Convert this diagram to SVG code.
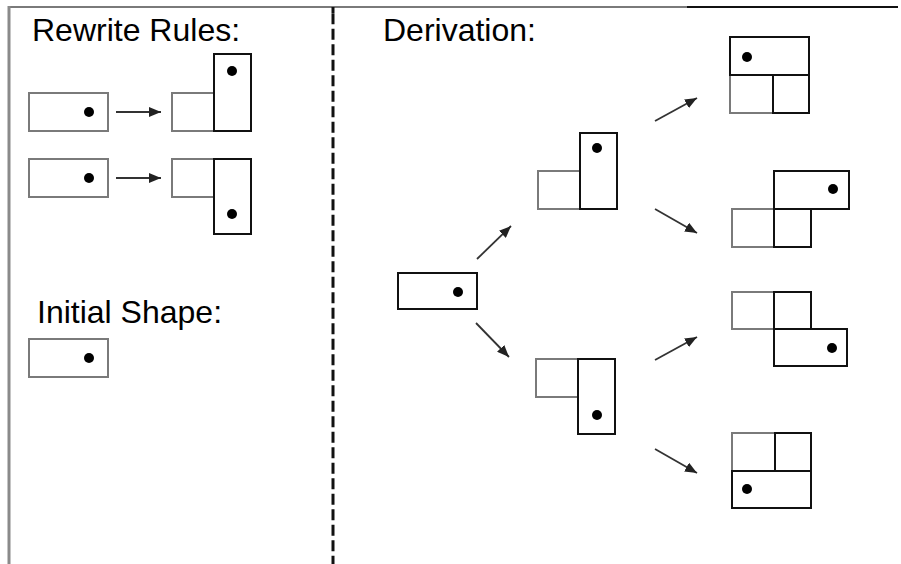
<svg xmlns="http://www.w3.org/2000/svg" width="901" height="564" viewBox="0 0 901 564">
  <style>
    .label { font-family: "Liberation Sans", Arial, sans-serif; font-size: 32px; fill: #000; }
    .old { fill: none; stroke: #7a7a7a; stroke-width: 2; }
    .new { fill: none; stroke: #111; stroke-width: 2; }
    .dot { fill: #000; }
    .arrow { stroke: #333; stroke-width: 1.8; fill: none; marker-end: url(#head); }
  </style>
  <defs>
    <marker id="head" markerUnits="userSpaceOnUse" markerWidth="12" markerHeight="10" refX="12" refY="5" orient="auto">
      <path d="M0,0 L12,5 L0,10 z" fill="#222"/>
    </marker>
  </defs>

  <rect width="901" height="564" fill="#fff"/>

  <!-- frame and panel divider -->
  <g id="frame">
    <line x1="8" y1="7" x2="688" y2="7" stroke="#7a7a7a" stroke-width="2"/>
    <line x1="687" y1="7" x2="898" y2="7" stroke="#111" stroke-width="2"/>
    <line x1="9" y1="6" x2="9" y2="564" stroke="#8a8a8a" stroke-width="3"/>
    <line x1="333" y1="7" x2="333" y2="13" stroke="#111" stroke-width="3"/>
    <line x1="333" y1="13.3" x2="333" y2="564" stroke="#111" stroke-width="3" stroke-dasharray="11 4.5"/>
  </g>

  <!-- headings -->
  <text class="label" x="32" y="41">Rewrite Rules:</text>
  <text class="label" x="383" y="41">Derivation:</text>
  <text class="label" x="37" y="323">Initial Shape:</text>

  <!-- rewrite rules -->
  <g id="rule1-lhs">
    <rect class="old" x="29" y="93" width="79" height="38"/>
    <circle class="dot" cx="89" cy="112" r="5"/>
  </g>
  <g id="rule1-rhs">
    <rect class="old" x="172" y="93" width="42" height="38"/>
    <rect class="new" x="214" y="54" width="37" height="77"/>
    <circle class="dot" cx="232" cy="71" r="5"/>
  </g>
  <g id="rule2-lhs">
    <rect class="old" x="29" y="159" width="79" height="38"/>
    <circle class="dot" cx="89" cy="178" r="5"/>
  </g>
  <g id="rule2-rhs">
    <rect class="old" x="172" y="159" width="42" height="38"/>
    <rect class="new" x="214" y="159" width="37" height="75"/>
    <circle class="dot" cx="232" cy="214" r="5"/>
  </g>

  <!-- initial shape -->
  <g id="initial">
    <rect class="old" x="29" y="339" width="79" height="38"/>
    <circle class="dot" cx="89" cy="358" r="5"/>
  </g>

  <!-- derivation tree -->
  <g id="d0">
    <rect class="new" x="398" y="273" width="79" height="36"/>
    <circle class="dot" cx="458" cy="292" r="5"/>
  </g>
  <g id="d1a">
    <rect class="old" x="538" y="171" width="42" height="38"/>
    <rect class="new" x="580" y="133" width="37" height="76"/>
    <circle class="dot" cx="597" cy="148" r="5"/>
  </g>
  <g id="d1b">
    <rect class="old" x="536" y="359" width="42" height="38"/>
    <rect class="new" x="578" y="359" width="37" height="75"/>
    <circle class="dot" cx="597" cy="415" r="5"/>
  </g>
  <g id="d2a">
    <rect class="old" x="730" y="75" width="43" height="38"/>
    <rect class="new" x="730" y="37" width="79" height="38"/>
    <rect class="new" x="773" y="75" width="36" height="38"/>
    <circle class="dot" cx="747" cy="57" r="5"/>
  </g>
  <g id="d2b">
    <rect class="old" x="732" y="209" width="42" height="38"/>
    <rect class="new" x="774" y="171" width="75" height="38"/>
    <rect class="new" x="774" y="209" width="37" height="38"/>
    <circle class="dot" cx="833" cy="189" r="5"/>
  </g>
  <g id="d2c">
    <rect class="old" x="732" y="292" width="42" height="37"/>
    <rect class="new" x="774" y="292" width="37" height="37"/>
    <rect class="new" x="774" y="329" width="73" height="37"/>
    <circle class="dot" cx="832" cy="348" r="5"/>
  </g>
  <g id="d2d">
    <rect class="old" x="732" y="433" width="43" height="38"/>
    <rect class="new" x="775" y="433" width="36" height="38"/>
    <rect class="new" x="732" y="471" width="79" height="37"/>
    <circle class="dot" cx="747" cy="489" r="5"/>
  </g>

  <!-- connectors -->
  <g id="connectors">
    <line class="arrow" x1="116" y1="112" x2="161" y2="112"/>
    <line class="arrow" x1="116" y1="178" x2="161" y2="178"/>
    <line class="arrow" x1="477" y1="259" x2="511" y2="226"/>
    <line class="arrow" x1="476" y1="323" x2="509" y2="357"/>
    <line class="arrow" x1="655" y1="121" x2="697" y2="98"/>
    <line class="arrow" x1="655" y1="209" x2="697" y2="233"/>
    <line class="arrow" x1="655" y1="360" x2="697" y2="337"/>
    <line class="arrow" x1="655" y1="449" x2="697" y2="473"/>
  </g>
</svg>
